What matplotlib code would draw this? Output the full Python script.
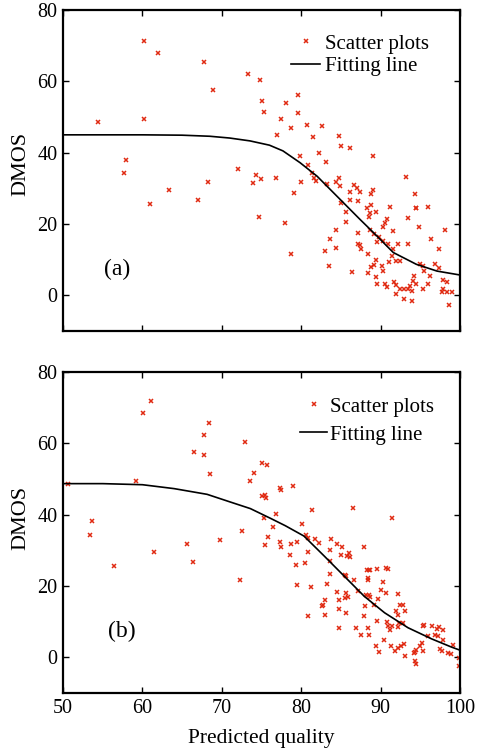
import matplotlib
matplotlib.use("Agg")
import matplotlib.pyplot as plt

plt.rcParams['font.family'] = ['Liberation Serif', 'DejaVu Serif']

# ---------------- data ----------------
pred_a = [60.2, 62.0, 67.8, 73.3, 74.8, 68.9, 75.0, 75.3, 54.4, 60.2, 57.9, 57.7, 72.0, 74.3, 74.9, 73.9, 68.3, 63.4, 67.0, 60.9, 74.7,
          79.6, 78.1, 79.6, 77.5, 78.7, 80.7, 82.6, 77.0, 81.5, 84.7, 85.0, 86.1, 82.2, 79.9, 89.1, 83.1, 80.8,
          76.8, 81.4, 81.6, 81.9, 80.0, 84.7, 84.4, 84.9, 83.3, 86.6, 87.0, 87.4, 86.1, 89.0, 88.8, 79.1,
          87.1, 86.1, 85.0, 93.2, 94.3, 94.4, 94.5, 96.0, 91.2, 88.3, 88.8, 89.4, 88.7, 88.5, 90.8, 90.6,
          85.6, 85.6, 93.5, 77.9, 84.4, 87.2, 88.7, 89.2, 89.8, 90.3, 91.5, 94.8, 98.1, 96.4, 83.6,
          87.1, 87.4, 87.5, 84.4, 83.0, 78.7, 88.4, 89.5, 90.3, 90.9, 91.5, 92.2, 93.4, 97.3,
          91.4, 92.4, 91.9, 89.4, 89.2, 90.2, 91.1, 90.3, 88.4, 86.4, 83.5, 89.4, 89.6, 90.6, 90.8,
          91.7, 92.0, 92.4, 92.0, 92.9, 93.0, 93.5, 93.9, 93.9, 94.1, 94.2, 94.4, 93.7,
          95.0, 95.4, 95.5, 96.2, 96.0, 95.4, 96.9, 97.3, 97.8, 98.3, 97.9, 98.4, 99.0, 98.6, 97.7, 88.8]
dmos_a = [71.4, 67.9, 65.3, 62.0, 60.4, 57.5, 54.5, 51.5, 48.7, 49.3, 38.0, 34.2, 35.3, 33.8, 32.5, 31.4, 31.9, 29.4, 26.6, 25.6, 21.9,
          56.3, 53.8, 51.1, 49.3, 46.9, 47.7, 47.5, 45.0, 44.4, 44.6, 41.8, 41.2, 39.9, 39.2, 39.2, 37.3, 36.5,
          32.8, 34.3, 32.8, 32.0, 31.9, 33.0, 31.8, 30.7, 31.1, 30.9, 30.0, 29.1, 29.0, 29.4, 28.3, 28.6,
          26.4, 26.7, 25.9, 33.2, 28.4, 24.4, 24.4, 24.9, 24.8, 24.5, 25.2, 23.5, 23.2, 22.1, 21.3, 20.2,
          23.5, 20.6, 21.8, 20.4, 18.3, 17.6, 18.2, 17.3, 16.3, 19.1, 17.9, 19.1, 18.4, 15.9, 15.9,
          14.5, 14.0, 12.9, 13.4, 12.3, 11.5, 11.6, 14.9, 15.2, 14.3, 12.9, 14.5, 14.4, 12.9,
          11.0, 9.6, 9.6, 9.8, 8.5, 8.2, 9.3, 6.8, 6.4, 6.5, 8.2, 5.1, 3.1, 3.1, 2.2,
          3.7, 2.8, 1.7, 0.3, -1.1, 1.7, 1.7, 1.2, -1.6, 4.0, 5.4, 3.1, 2.6,
          8.9, 8.2, 6.8, 5.4, 3.1, 1.7, 8.7, 7.8, 4.2, 3.6, 1.7, 0.8, 1.0, -2.6, 0.9, 7.9]

fit_x_a = [50, 60, 65, 68.5, 71, 73.55, 76, 77.7, 79.85, 82, 84.9, 87.4, 89.1, 91.6, 94.5, 97.1, 100]
fit_y_a = [45.0, 45.0, 44.9, 44.6, 44.1, 43.3, 42.1, 40.5, 37.2, 33.4, 26.9, 21.3, 17.6, 12.0, 8.7, 6.8, 5.7]

pred_b = [61.1, 60.1, 68.4, 67.8, 72.9, 66.5, 67.7, 75.0, 75.7, 74.0, 68.5, 73.5, 59.2, 50.6, 75.1, 75.6, 75.3, 53.6, 53.4, 72.5,
          75.8, 75.5, 69.8, 65.6, 61.5, 66.4, 56.4, 72.3,
          77.3, 77.5, 79.0, 75.4, 81.3, 86.5, 91.4, 76.8, 80.1, 76.5, 77.3, 77.4, 78.7, 79.5, 80.6, 80.9, 81.7, 82.2,
          83.8, 84.5, 85.1, 83.6, 86.0, 86.1, 85.8, 85.0, 87.9, 78.6, 80.9, 83.6, 79.4, 80.5,
          88.3, 88.5, 88.7, 89.5, 90.7, 90.9, 85.5, 85.7, 83.6, 88.4, 88.4, 86.6, 90.3, 83.3, 79.5, 81.2, 90.0, 84.5,
          85.7, 85.9, 85.5, 87.1, 88.1, 88.5, 88.7, 89.7, 90.7, 92.2, 83.0, 82.6, 82.7, 84.7, 84.7, 83.0, 85.6, 87.9,
          88.0, 89.2, 80.8,
          92.5, 92.8, 93.1, 92.0, 92.2, 90.8, 90.9, 91.2, 91.4, 92.3, 92.8, 92.2, 89.5, 88.4, 88.5, 86.9, 84.7, 87.5,
          89.4, 89.8, 90.4, 91.3, 91.8, 92.2, 92.6, 93.0, 93.1, 94.2, 94.5, 94.3, 94.3, 94.5,
          94.9, 95.2, 95.4, 95.5, 96.0, 95.4, 96.5, 97.1, 97.4, 97.2, 96.9, 97.8, 97.9, 97.5, 97.7, 98.5, 98.9, 99.1,
          99.9, 99.9]
dmos_b = [71.8, 68.4, 65.6, 62.2, 60.5, 57.7, 56.6, 54.6, 53.9, 51.7, 51.3, 49.4, 49.4, 48.7, 45.1, 44.7, 39.0, 38.2, 34.2, 35.5,
          33.8, 31.4, 32.9, 31.9, 29.6, 26.6, 25.6, 21.7,
          47.6, 46.8, 47.9, 45.5, 41.2, 42.0, 39.2, 40.1, 37.3, 36.5, 32.4, 31.0, 31.9, 32.4, 34.4, 33.5, 33.1, 32.1,
          33.3, 31.9, 30.9, 30.1, 29.3, 28.2, 28.4, 28.7, 31.0, 28.8, 29.5, 27.0, 26.0, 26.5,
          24.4, 24.6, 24.6, 24.9, 25.1, 24.8, 23.2, 22.8, 23.4, 22.3, 21.8, 21.7, 21.1, 20.7, 20.4, 19.7, 19.0, 18.2,
          18.1, 17.0, 16.7, 18.5, 17.6, 17.6, 16.9, 16.4, 18.1, 17.7, 16.0, 14.3, 14.8, 16.2, 13.6, 12.0, 12.3, 11.5,
          14.3, 14.8, 11.7,
          14.6, 14.6, 12.9, 12.9, 12.0, 9.8, 8.9, 7.8, 8.7, 9.7, 9.7, 8.5, 10.3, 8.3, 6.4, 8.3, 8.3, 6.4,
          3.1, 1.4, 5.0, 3.1, 1.9, 2.6, 3.1, 3.8, 0.3, 1.2, 2.0, 1.6, -1.1, -1.8,
          3.1, 4.0, 8.7, 9.2, 5.9, 1.7, 8.7, 8.0, 8.4, 6.1, 6.4, 5.0, 7.6, 2.4, 1.7, 1.2, 0.8, 3.4,
          -0.2, -2.5]

fit_x_b = [50, 55, 60, 64, 68.15, 71, 73.6, 76.2, 78, 80.35, 82.9, 85.4, 87.95, 90.5, 93.45, 96.4, 98.9, 100]
fit_y_b = [48.7, 48.7, 48.4, 47.3, 45.7, 43.6, 41.7, 38.9, 36.9, 34.0, 28.4, 22.8, 17.1, 12.5, 8.3, 5.2, 2.9, 2.0]

x_ticks = [50, 60, 70, 80, 90, 100]
y_ticks = [0, 20, 40, 60, 80]
legend_labels = ['Scatter plots', 'Fitting line']
panel_labels = ['(a)', '(b)']

# ---------------- figure ----------------
W, H = 478, 752
fig = plt.figure(figsize=(W / 100, H / 100), dpi=100)
ax_a = fig.add_axes([63 / W, 1 - 331 / H, 397 / W, 321 / H])
ax_b = fig.add_axes([63 / W, 1 - 693 / H, 397 / W, 321 / H])

red = '#E02A12'

def style(ax, label_y):
    ax.set_xlim(50, 100)
    ax.set_ylim(-10, 80)
    ax.set_xticks(x_ticks)
    ax.set_yticks(y_ticks)
    ax.tick_params(direction='in', top=True, right=True, length=4, width=1.0,
                   labelsize=14.5, pad=4)
    for s in ax.spines.values():
        s.set_linewidth(1.6)
    ax.set_ylabel('DMOS', fontsize=16)
    ax.yaxis.set_label_coords(-0.083, label_y)

for ax, px, py, fx, fy, ly in [(ax_a, pred_a, dmos_a, fit_x_a, fit_y_a, 0.52),
                               (ax_b, pred_b, dmos_b, fit_x_b, fit_y_b, 0.545)]:
    ax.plot(px, py, linestyle='none', marker='x', color=red, markersize=3.4,
            markeredgewidth=1.1, label=legend_labels[0])
    ax.plot(fx, fy, color='black', linewidth=1.2, label=legend_labels[1])
    style(ax, ly)

ax_a.tick_params(labelbottom=False)
ax_b.set_xlabel('Predicted quality', fontsize=15.5, labelpad=8)

ax_a.text(56.8, 7.3, panel_labels[0], fontsize=17, ha='center', va='center')
ax_b.text(57.4, 7.2, panel_labels[1], fontsize=17, ha='center', va='center')

ax_a.legend(loc='upper left', bbox_to_anchor=(0.575, 0.925), frameon=False, fontsize=15,
            numpoints=1, handlelength=1.4, handletextpad=0.2, labelspacing=0.14,
            borderpad=0, borderaxespad=0)
ax_b.legend(loc='upper left', bbox_to_anchor=(0.598, 0.922), frameon=False, fontsize=15,
            numpoints=1, handlelength=1.3, handletextpad=0.1, labelspacing=0.41,
            borderpad=0, borderaxespad=0)

fig.savefig('out.png', dpi=100)
